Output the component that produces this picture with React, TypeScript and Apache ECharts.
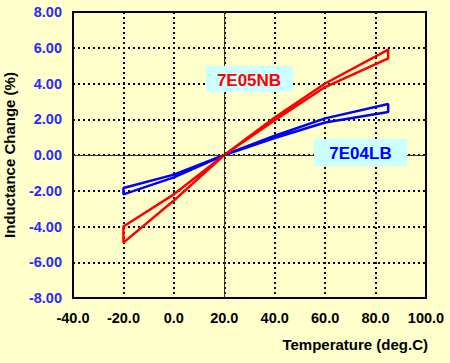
import React, { useEffect, useRef } from "react";
import * as echarts from "echarts";

// Temperature (deg.C) / inductance change (%) loops
const redLoop: [number, number][] = [
  [20, 0], [40, 2.1], [60, 4.0], [85, 5.9], [85, 5.4], [60, 3.8], [40, 1.95], [20, 0],
  [0, -2.2], [-20, -4.0], [-20, -4.9], [0, -2.55], [20, 0],
];
const blueLoop: [number, number][] = [
  [20, 0], [40, 1.08], [60, 2.05], [85, 2.85], [85, 2.4], [60, 1.82], [40, 0.95], [20, 0],
  [0, -1.1], [-20, -1.85], [-20, -2.2], [0, -1.25], [20, 0],
];
const seriesNames = ["7E05NB", "7E04LB"];
const xRange = [-40, 100, 20];
const yRange = [-8, 8, 2];
const crossAt = { x: 20, y: 0 };

const FONT = '"Liberation Sans", Arial, sans-serif';
const BG = "#FFFFCC";

export default function App() {
  const ref = useRef<HTMLDivElement>(null);
  useEffect(() => {
    if (!ref.current) return;
    const chart = echarts.init(ref.current, null, { renderer: "svg" });
    const gridStyle = { color: "#000", width: 2, type: [2, 3] as any };
    chart.setOption({
      animation: false,
      backgroundColor: BG,
      textStyle: { fontFamily: FONT },
      grid: {
        left: 73, top: 12, right: 24, bottom: 65, show: true,
        containLabel: false, outerBoundsMode: "none",
        borderColor: "#000", borderWidth: 2, backgroundColor: BG,
      },
      xAxis: {
        type: "value", min: xRange[0], max: xRange[1], interval: xRange[2],
        axisLine: { show: false }, axisTick: { show: false },
        splitLine: { show: true, lineStyle: gridStyle },
        axisLabel: {
          margin: 12, color: "#000", fontWeight: "bold", fontSize: 14.5, fontFamily: FONT,
          formatter: (v: number) => v.toFixed(1),
        },
      },
      yAxis: {
        type: "value", min: yRange[0], max: yRange[1], interval: yRange[2],
        axisLine: { show: false }, axisTick: { show: false },
        splitLine: { show: true, lineStyle: gridStyle },
        axisLabel: {
          margin: 11, color: "#2929ff", fontWeight: "bold", fontSize: 14.5, fontFamily: FONT,
          formatter: (v: number) => v.toFixed(2),
        },
        name: "Inductance Change (%)", nameLocation: "middle", nameGap: 56,
        nameTextStyle: { color: "#000", fontWeight: "bold", fontSize: 15, fontFamily: FONT },
      },
      series: [
        {
          name: "axes", type: "line", data: [], silent: true, z: 1,
          markLine: {
            silent: true, symbol: "none", label: { show: false }, animation: false,
            lineStyle: { color: "#333", width: 1, type: "solid" },
            data: [{ yAxis: crossAt.y }, { xAxis: crossAt.x }],
          },
        },
        {
          name: seriesNames[1], type: "line", data: blueLoop, showSymbol: false, z: 3,
          lineStyle: { color: "#0000ff", width: 2.5 }, itemStyle: { color: "#0000ff" },
        },
        {
          name: seriesNames[0], type: "line", data: redLoop, showSymbol: false, z: 4,
          lineStyle: { color: "#ff0000", width: 2.5 }, itemStyle: { color: "#ff0000" },
        },
      ],
      graphic: [
        { type: "rect", shape: { x: 206, y: 66, width: 87, height: 26 }, style: { fill: "#CCFFFF" }, z: 10 },
        {
          type: "text", x: 249, y: 80, z: 11,
          style: { text: seriesNames[0], fill: "#ff0000", font: `bold 17px ${FONT}`, textAlign: "center", textVerticalAlign: "middle" },
        },
        { type: "rect", shape: { x: 314, y: 139, width: 93, height: 27 }, style: { fill: "#CCFFFF" }, z: 10 },
        {
          type: "text", x: 360.5, y: 153, z: 11,
          style: { text: seriesNames[1], fill: "#0000ff", font: `bold 17px ${FONT}`, textAlign: "center", textVerticalAlign: "middle" },
        },
        {
          type: "text", x: 428, y: 344, z: 11,
          style: { text: "Temperature (deg.C)", fill: "#000", font: `bold 15px ${FONT}`, textAlign: "right", textVerticalAlign: "middle" },
        },
      ],
    });
    return () => chart.dispose();
  }, []);
  return (
    <div
      ref={ref}
      style={{ position: "absolute", left: 0, top: 0, width: 450, height: 363, background: BG }}
    />
  );
}
